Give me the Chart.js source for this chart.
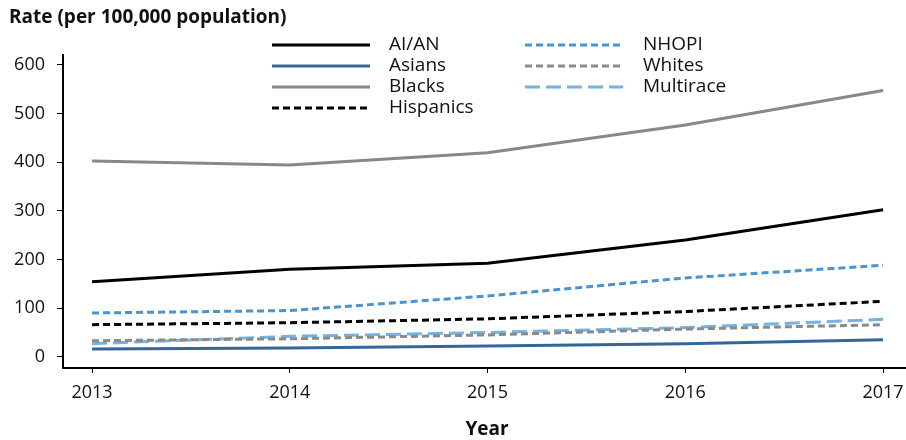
<!DOCTYPE html>
<html lang="en">

<head>
    <meta charset="UTF-8">
    <title>Rate per 100,000</title>
    <script src="https://cdn.jsdelivr.net/npm/chart.js@4.4.0/dist/chart.umd.min.js"></script>
    <style>
        body { margin: 0; background: #fff; }
        #wrap { width: 906px; height: 440px; }
    </style>
</head>

<body>
    <div id="wrap"><canvas id="canvas" width="906" height="440"></canvas></div>
    <script>
        // andmed
        const years = [2013, 2014, 2015, 2016, 2017];
        const yTicks = [0, 100, 200, 300, 400, 500, 600];

        const aian = [154, 180, 192, 240, 302];
        const asians = [16, 18, 22, 27, 35];
        const blacks = [402, 394, 419, 476, 547];
        const hispanics = [66, 70, 78, 93, 114];
        const nhopi = [90, 95, 125, 162, 188];
        const whites = [33, 37, 45, 57, 66];
        const multirace = [27, 42, 50, 60, 77];

        const font = "'Open Sans', sans-serif";

        function pts(arr) {
            return arr.map((v, i) => ({ x: years[i], y: v }));
        }

        function ds(label, arr, color, dash) {
            return {
                label: label,
                data: pts(arr),
                borderColor: color,
                backgroundColor: color,
                borderWidth: 3,
                borderDash: dash,
                pointRadius: 0,
                tension: 0,
                fill: false
            };
        }

        // legend drawn by hand, two columns
        const legendPlugin = {
            id: 'legendPlugin',
            afterDraw(chart) {
                const c = chart.ctx;
                const rows = [45, 66, 87, 108];
                chart.data.datasets.forEach((d, i) => {
                    const col = i < 4 ? 0 : 1;
                    const row = i < 4 ? i : i - 4;
                    const x0 = col === 0 ? 272 : 525;
                    const tx = col === 0 ? 389 : 643;
                    const y = rows[row];
                    c.save();
                    c.strokeStyle = d.borderColor;
                    c.lineWidth = 3;
                    c.setLineDash(d.borderDash || []);
                    c.beginPath();
                    c.moveTo(x0, y);
                    c.lineTo(x0 + 98, y);
                    c.stroke();
                    c.restore();
                    c.fillStyle = '#111';
                    c.font = '19px ' + font;
                    c.textBaseline = 'middle';
                    c.textAlign = 'left';
                    c.fillText(d.label, tx, y);
                });
                // pealkirjad
                c.fillStyle = '#111';
                c.font = 'bold 19px ' + font;
                c.textBaseline = 'middle';
                c.textAlign = 'left';
                c.fillText('Rate (per 100,000 population)', 9, 18);
                c.textAlign = 'center';
                c.fillText('Year', 487, 430);
            }
        };

        const ctx = document.getElementById('canvas').getContext('2d');
        const config = {
            type: 'line',
            data: {
                datasets: [
                    ds('AI/AN', aian, '#000000', []),
                    ds('Asians', asians, '#346699', []),
                    ds('Blacks', blacks, '#888888', []),
                    ds('Hispanics', hispanics, '#000000', [7, 4]),
                    ds('NHOPI', nhopi, '#4a94d2', [7, 4]),
                    ds('Whites', whites, '#8a8a8a', [7, 4]),
                    ds('Multirace', multirace, '#72b3e3', [15, 6])
                ]
            },
            options: {
                responsive: false,
                animation: false,
                layout: { padding: { top: 55, right: 0, left: 0, bottom: 0 } },
                plugins: {
                    legend: { display: false },
                    tooltip: { enabled: false }
                },
                scales: {
                    x: {
                        type: 'linear',
                        min: 2012.853,
                        max: 2017.116,
                        afterBuildTicks: axis => { axis.ticks = years.map(v => ({ value: v })); },
                        afterFit: s => { s.height = 72; s.paddingLeft = 0; s.paddingRight = 0; },
                        grid: { drawOnChartArea: false, tickLength: 5, color: '#000', tickWidth: 1 },
                        border: { display: true, color: '#000', width: 2 },
                        ticks: {
                            color: '#111',
                            font: { family: font, size: 18 },
                            padding: 9,
                            maxRotation: 0,
                            callback: v => String(v)
                        }
                    },
                    y: {
                        min: -23,
                        max: 620,
                        afterBuildTicks: axis => { axis.ticks = yTicks.map(v => ({ value: v })); },
                        afterFit: s => { s.width = 63; s.paddingTop = 0; s.paddingBottom = 0; },
                        grid: { drawOnChartArea: false, tickLength: 6, color: '#000', tickWidth: 1 },
                        border: { display: true, color: '#000', width: 2 },
                        ticks: {
                            color: '#111',
                            font: { family: font, size: 18 },
                            padding: 12
                        }
                    }
                }
            },
            plugins: [legendPlugin]
        };

        let chart = new Chart(ctx, config);
    </script>
</body>

</html>
